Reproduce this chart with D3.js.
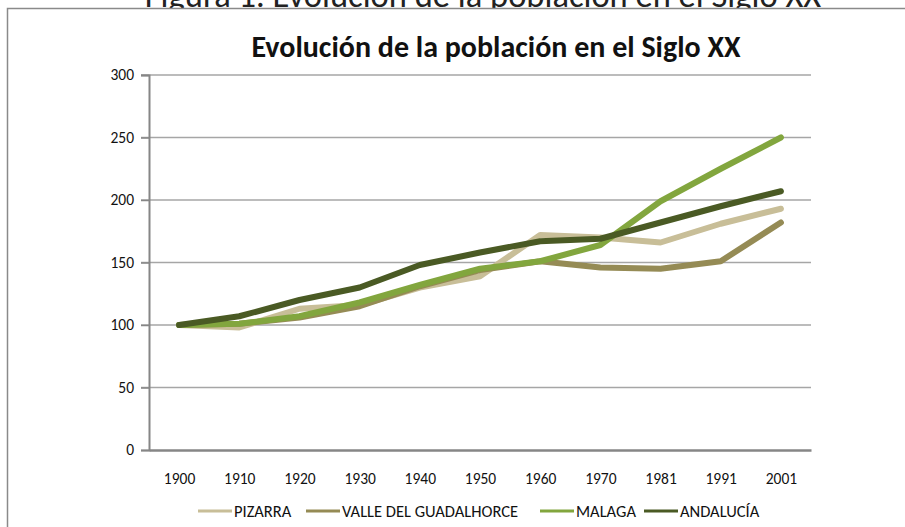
<!DOCTYPE html>
<html>
<head>
<meta charset="utf-8">
<script src="https://cdnjs.cloudflare.com/ajax/libs/d3/7.8.5/d3.min.js"></script>
<style>
  body { margin: 0; background: #fff; }
  svg { display: block; font-family: Carlito, Calibri, "Liberation Sans", sans-serif; }
</style>
</head>
<body>
<div id="chart"></div>
<script>
const years = ['1900', '1910', '1920', '1930', '1940', '1950', '1960', '1970', '1981', '1991', '2001'];
const pizarra = [100, 98, 113, 116, 130, 139, 172, 170, 166, 181, 193];
const valle = [100, 101, 106, 115, 131, 144, 151, 146, 145, 151, 182];
const malaga = [100, 101, 107, 118, 132, 145, 151, 164, 199, 225, 250];
const andalucia = [100, 107, 120, 130, 148, 158, 167, 169, 182, 195, 207];
const yTicks = [0, 50, 100, 150, 200, 250, 300];

const series = [
    { name: 'PIZARRA', values: pizarra, color: '#C8BE98' },
    { name: 'VALLE DEL GUADALHORCE', values: valle, color: '#958B55' },
    { name: 'MALAGA', values: malaga, color: '#82A63E' },
    { name: 'ANDALUCÍA', values: andalucia, color: '#4A5A24' }
];

const width = 905, height = 527;
const margin = { top: 75, right: 94, bottom: 77, left: 149 };
const font = 'Carlito, Calibri, "Liberation Sans", sans-serif';

const svg = d3.select('#chart').append('svg')
    .attr('width', width)
    .attr('height', height);

// caption above the chart box (cut off at the top)
svg.append('text')
    .attr('x', 483)
    .attr('y', 7)
    .attr('text-anchor', 'middle')
    .style('font-size', '34.5px')
    .style('fill', '#222')
    .text('Figura 1. Evolución de la población en el Siglo XX');

// chart box
svg.append('rect')
    .attr('x', 7.5)
    .attr('y', 8.5)
    .attr('width', 1000)
    .attr('height', 600)
    .attr('fill', '#fff')
    .attr('stroke', '#8a8a8a')
    .attr('stroke-width', 1.5);

svg.append('text')
    .attr('x', 496)
    .attr('y', 57)
    .attr('text-anchor', 'middle')
    .style('font-size', '30px')
    .style('font-weight', 'bold')
    .style('fill', '#111')
    .text('Evolución de la población en el Siglo XX');

const x = d3.scalePoint()
    .domain(years)
    .range([margin.left, width - margin.right])
    .padding(0.5);

const y = d3.scaleLinear()
    .domain([0, 300])
    .range([height - margin.bottom, margin.top]);

// gridlines
svg.append('g')
    .selectAll('line')
    .data(yTicks.filter(d => d > 0))
    .enter()
    .append('line')
    .attr('x1', margin.left - 8)
    .attr('x2', width - margin.right)
    .attr('y1', d => y(d))
    .attr('y2', d => y(d))
    .attr('stroke', '#a6a6a6')
    .attr('stroke-width', 1.5);

const yAxis = svg.append('g')
    .attr('transform', `translate(${margin.left},0)`)
    .call(d3.axisLeft(y).tickValues(yTicks).tickSize(8).tickPadding(7));
yAxis.select('.domain').attr('stroke', '#868686').attr('stroke-width', 2);
yAxis.selectAll('.tick line').attr('stroke', '#868686').attr('stroke-width', 1.5);
yAxis.selectAll('text').style('font-size', '15.5px').style('fill', '#111')
    .style('font-family', font);

const xAxis = svg.append('g')
    .attr('transform', `translate(0,${height - margin.bottom})`)
    .call(d3.axisBottom(x).tickSize(0).tickPadding(23).tickSizeOuter(0));
xAxis.select('.domain').attr('stroke', '#868686').attr('stroke-width', 2.5);
xAxis.selectAll('text').style('font-size', '15.5px').style('fill', '#111')
    .style('font-family', font);

const line = d3.line()
    .x((d, i) => x(years[i]))
    .y(d => y(d));

svg.append('g')
    .selectAll('path')
    .data(series)
    .enter()
    .append('path')
    .attr('d', d => line(d.values))
    .attr('fill', 'none')
    .attr('stroke', d => d.color)
    .attr('stroke-width', 6)
    .attr('stroke-linecap', 'round')
    .attr('stroke-linejoin', 'round');

// legend
const legendX = [198, 306, 540, 644];
const legend = svg.append('g')
    .selectAll('g')
    .data(series)
    .enter()
    .append('g')
    .attr('transform', (d, i) => `translate(${legendX[i]},511)`);

legend.append('line')
    .attr('x1', 0)
    .attr('x2', 34)
    .attr('stroke', d => d.color)
    .attr('stroke-width', 3);

legend.append('text')
    .attr('x', 36)
    .attr('dy', '0.35em')
    .style('font-size', '16.5px')
    .style('fill', '#111')
    .text(d => d.name);
</script>
</body>
</html>
